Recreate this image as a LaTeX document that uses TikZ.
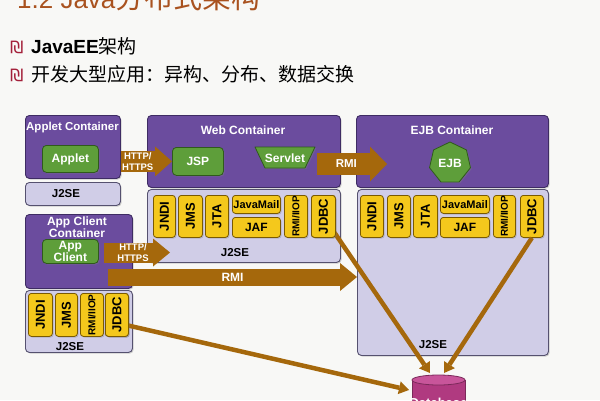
\documentclass[tikz,border=0pt]{standalone}
\usepackage{fontspec}
\setmainfont{Liberation Sans}
\newfontfamily\cjk{Noto Sans CJK SC}
\newfontfamily\djv{DejaVu Sans}
\usetikzlibrary{shapes.geometric,arrows.meta,calc,shadows}
\newcommand\fsz[1]{\fontsize{#1}{#1}\selectfont}
\newcommand\fszb[2]{\fontsize{#1}{#2}\selectfont}
\definecolor{bgc}{HTML}{F8F8F6}
\definecolor{contp}{HTML}{6B4C9E}
\definecolor{contb}{HTML}{3E2C63}
\definecolor{lav}{HTML}{D0CDE7}
\definecolor{lavb}{HTML}{55516F}
\definecolor{grn}{HTML}{5E9E3A}
\definecolor{grnb}{HTML}{2F5A1C}
\definecolor{yel}{HTML}{F4C81C}
\definecolor{yelb}{HTML}{7A5A00}
\definecolor{brn}{HTML}{A5680C}
\definecolor{dbc}{HTML}{B03A80}
\definecolor{dbtop}{HTML}{C8559A}
\definecolor{ttl}{HTML}{A9521F}
\definecolor{bul}{HTML}{A3203A}
\tikzset{
  shd/.style={drop shadow={opacity=0.35,shadow xshift=1.2pt,shadow yshift=-1.2pt}},
  cont/.style={draw=contb,fill=contp,line width=0.9pt,rounded corners=4pt,inner sep=0,anchor=north west,shd},
  j2sebox/.style={draw=lavb,fill=lav,line width=0.9pt,rounded corners=4pt,inner sep=0,anchor=north west,shd},
  comp/.style={draw=grnb,fill=grn,line width=0.8pt,rounded corners=4pt,inner sep=0,text=white,font=\bfseries\fsz{12},align=center,anchor=north west,shd},
  api/.style={draw=yelb,fill=yel,line width=0.8pt,rounded corners=3pt,inner sep=0,anchor=north west,shd},
  apitxt/.style={font=\bfseries\fsz{13},rotate=90,text=black,inner sep=0},
  ctitle/.style={text=white,font=\bfseries\fsz{12},inner sep=0,align=center},
  j2lbl/.style={text=black,font=\bfseries\fsz{11.5},inner sep=0},
  alabel/.style={text=white,font=\bfseries\fsz{9.5},inner sep=0,align=center},
  dbline/.style={draw=brn,line width=4.5pt,-{Triangle[length=10pt,width=13pt,line width=0pt]}},
}
\begin{document}
\begin{tikzpicture}[x=1pt,y=-1pt]
\useasboundingbox (0,0) rectangle (600,400);
\clip (0,0) rectangle (600,400);
\fill[bgc] (0,0) rectangle (600,400);

% title and bullets
\node[anchor=base west,inner sep=0,text=ttl] (title) at (17,8) {\fsz{26}1.2 Java{\cjk\fsz{29}分布式架构}};
\node[anchor=base west,inner sep=0,text=bul] (b1) at (10,53) {\djv\fsz{17}₪};
\node[anchor=base west,inner sep=0] (t1) at (31,53) {\fsz{19}\bfseries JavaEE{\cjk\mdseries 架构}};
\node[anchor=base west,inner sep=0,text=bul] (b2) at (10,81) {\djv\fsz{17}₪};
\node[anchor=base west,inner sep=0] (t2) at (31,81) {\cjk\fsz{19}开发大型应用：异构、分布、数据交换};

% containers
\node[cont,minimum width=95pt,minimum height=63pt] (appletc) at (25,115) {};
\node[j2sebox,minimum width=95pt,minimum height=23pt] (appletj) at (25,182) {};
\node[cont,minimum width=193pt,minimum height=72pt] (webc) at (147,115) {};
\node[j2sebox,minimum width=193pt,minimum height=73pt] (webj) at (147,189) {};
\node[cont,minimum width=192pt,minimum height=72pt] (ejbc) at (356,115) {};
\node[j2sebox,minimum width=191pt,minimum height=166pt] (ejbj) at (357,189) {};
\node[cont,minimum width=107pt,minimum height=74pt] (appc) at (25,214) {};
\node[j2sebox,minimum width=107pt,minimum height=62pt] (appj) at (25,290) {};

\node[ctitle,font=\bfseries\fsz{11.5}] (appletct) at (72.5,128) {Applet Container};
\node[ctitle] (webct) at (243,130) {Web Container};
\node[ctitle] (ejbct) at (452,130) {EJB Container};
\node[ctitle,font=\bfseries\fszb{12}{11}] (appct) at (77,227) {App Client\\Container};

\node[j2lbl] (appletjl) at (66,194) {J2SE};
\node[j2lbl] (webjl) at (235,253) {J2SE};
\node[j2lbl] (ejbjl) at (433,345) {J2SE};
\node[j2lbl] (appjl) at (70,347) {J2SE};

% database
\fill[dbc] (412,380) rectangle (465,415);
\draw[dbc!70!black,line width=0.8pt] (412,380) -- (412,415) (465,380) -- (465,415);
\fill[dbtop,draw=dbc!70!black,line width=0.8pt] (438.5,380) ellipse[x radius=26.5,y radius=5];
\node[text=white,font=\bfseries\fsz{13},inner sep=0] (db) at (438.5,403) {Database};
\coordinate (dbt1) at (430,373);
\coordinate (dbt2) at (444,373);
\coordinate (dbt3) at (409,390);

% API boxes (web)
\node[api,minimum width=22pt,minimum height=42pt] (wjndi) at (153,195) {};
\node[api,minimum width=24pt,minimum height=42pt] (wjms) at (178,195) {};
\node[api,minimum width=23pt,minimum height=42pt] (wjta) at (205,195) {};
\node[api,minimum width=48pt,minimum height=18pt] (wmail) at (232,195) {};
\node[api,minimum width=48pt,minimum height=20pt] (wjaf) at (232,217) {};
\node[api,minimum width=23pt,minimum height=42pt] (wrmi) at (284,195) {};
\node[api,minimum width=24pt,minimum height=42pt] (wjdbc) at (311,195) {};
% API boxes (ejb)
\node[api,minimum width=23pt,minimum height=42pt] (ejndi) at (360,195) {};
\node[api,minimum width=23pt,minimum height=42pt] (ejms) at (387,195) {};
\node[api,minimum width=24pt,minimum height=42pt] (ejta) at (413,195) {};
\node[api,minimum width=49pt,minimum height=18pt] (email) at (440,195) {};
\node[api,minimum width=49pt,minimum height=20pt] (ejaf) at (440,217) {};
\node[api,minimum width=22pt,minimum height=42pt] (ermi) at (493,195) {};
\node[api,minimum width=23pt,minimum height=42pt] (ejdbc) at (520,195) {};
% API boxes (app client)
\node[api,minimum width=24pt,minimum height=43pt] (ajndi) at (28,293) {};
\node[api,minimum width=22pt,minimum height=43pt] (ajms) at (55,293) {};
\node[api,minimum width=23pt,minimum height=43pt] (armi) at (80,293) {};
\node[api,minimum width=23pt,minimum height=43pt] (ajdbc) at (105,293) {};

% database connectors
\draw[dbline] (wjdbc.center) -- (dbt1);
\draw[dbline] (ejdbc.south) -- (dbt2);
\draw[dbline] ([yshift=-8pt]ajdbc.center) -- (dbt3);
% re-draw JDBC boxes over line starts
\node[api,minimum width=24pt,minimum height=42pt] (wjdbc2) at (311,195) {};
\node[api,minimum width=23pt,minimum height=43pt] (ajdbc2) at (105,293) {};

% API labels
\foreach \n/\t in {wjndi/JNDI,wjms/JMS,wjta/JTA,wjdbc/JDBC,ejndi/JNDI,ejms/JMS,ejta/JTA,ejdbc/JDBC,ajndi/JNDI,ajms/JMS,ajdbc/JDBC}
  \node[apitxt] at (\n.center) {\t};
\foreach \n in {wrmi,ermi,armi}
  \node[apitxt,font=\bfseries\fsz{10}] at (\n.center) {RMI/IIOP};
\foreach \n in {wmail,email}
  \node[font=\bfseries\fsz{11},inner sep=0] at (\n.center) {JavaMail};
\foreach \n in {wjaf,ejaf}
  \node[font=\bfseries\fsz{12},inner sep=0] at (\n.center) {JAF};

% components
\node[comp,minimum width=56pt,minimum height=27pt] (applet) at (42,145) {Applet};
\node[comp,minimum width=51pt,minimum height=28pt] (jsp) at (172,147) {JSP};
\filldraw[draw=grnb,fill=grn,line width=0.8pt,line join=round,shd] (255,147) -- (315,147) -- (305,168) -- (265,168) -- cycle;
\node[text=white,font=\bfseries\fsz{12},inner sep=0] (servlet) at (285,158) {Servlet};
\node[regular polygon,regular polygon sides=7,draw=grnb,fill=grn,line width=0.8pt,minimum size=42pt,inner sep=0,text=white,font=\bfseries\fsz{12},shd] (ejb) at (450,163) {EJB};
\node[comp,minimum width=56pt,minimum height=24pt,font=\bfseries\fszb{12}{11}] (appclient) at (42,239) {App\\Client};

% big arrows
\coordinate (r1s) at (317,164);
\coordinate (r1e) at (387,164);
\coordinate (h2s) at (104,252.5);
\coordinate (h2e) at (170,252.5);
\coordinate (r2s) at (108,277);
\draw[brn,line width=21pt,-{Triangle[length=17pt,width=30pt,line width=0pt]}] (appletc.east |- jsp.west) -- (jsp.west)
  node[alabel,pos=0.33,font=\bfseries\fszb{9.5}{10.5}] (h1l) {HTTP/\\HTTPS};
\draw[brn,line width=22pt,-{Triangle[length=17pt,width=35pt,line width=0pt]}] (r1s) -- (r1e)
  node[alabel,pos=0.42,font=\bfseries\fsz{11.5}] (r1l) {RMI};
\draw[brn,line width=20pt,-{Triangle[length=17pt,width=28pt,line width=0pt]}] (h2s) -- (h2e)
  node[alabel,pos=0.44,font=\bfseries\fszb{9.5}{10.5}] (h2l) {HTTP/\\HTTPS};
\draw[brn,line width=17pt,-{Triangle[length=17pt,width=28pt,line width=0pt]}] (r2s) -- (ejbj.west |- r2s)
  node[alabel,pos=0.5,font=\bfseries\fsz{12}] (r2l) {RMI};
\end{tikzpicture}
\end{document}
